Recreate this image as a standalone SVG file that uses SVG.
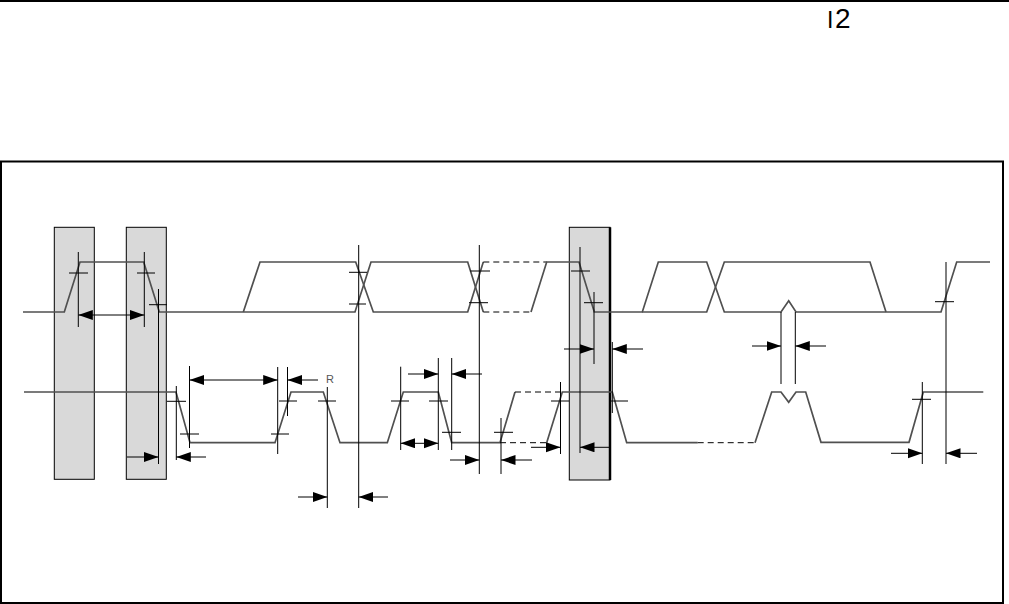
<svg xmlns="http://www.w3.org/2000/svg" width="1009" height="604" viewBox="0 0 1009 604">
<style>
.sig{fill:none;stroke:#505050;stroke-width:1.7;stroke-linejoin:miter}
.dash{fill:none;stroke:#000;stroke-width:1;stroke-dasharray:6 4}
.tk{fill:none;stroke:#000;stroke-width:1}
.dim{fill:none;stroke:#000;stroke-width:1;marker-end:url(#ah)}
.dbl{fill:none;stroke:#000;stroke-width:1;marker-end:url(#ah);marker-start:url(#ah)}
.box{fill:#d9d9d9;stroke:#000;stroke-width:1}
.hd{font-family:"Liberation Sans",Arial,sans-serif;fill:#000}
</style>
<defs>
<marker id="ah" markerUnits="userSpaceOnUse" markerWidth="16" markerHeight="11" refX="14.5" refY="5" orient="auto-start-reverse">
<path d="M0,0 L14.5,5 L0,10 z" fill="#000"/>
</marker>
</defs>
<rect width="1009" height="604" fill="#fff"/>
<g id="header">
<line x1="0" y1="1" x2="1009" y2="1" stroke="#000" stroke-width="2"/>
<text class="hd" x="827" y="28" font-size="23">I</text>
<text class="hd" x="835" y="28" font-size="28">2</text>
</g>
<g id="frame">
<rect x="1" y="161.5" width="1002" height="441.5" fill="none" stroke="#000" stroke-width="2"/>
</g>
<g id="boxes">
<rect class="box" x="54.3" y="227.3" width="40" height="252"/>
<rect class="box" x="126.3" y="227.3" width="40" height="252"/>
<rect class="box" x="569.3" y="227.3" width="40.7" height="252.7"/>
<line x1="610" y1="227.3" x2="610" y2="480" stroke="#000" stroke-width="2.5"/>
</g>
<g id="SDA">
<path class="sig" d="M23,312 L64.3,312 L80,262 L143.7,262 L159.3,312 L355,312 L371,262 L467.7,262 L483.3,312"/>
<path class="sig" d="M243.3,312 L260,262 L355.7,262 L373.3,312 L467.7,312 L483.3,262"/>
<path class="dash" d="M483.3,262 L546.7,262 M483.3,312 L531,312"/>
<path class="sig" d="M531,312 L546.7,262 L579,262 L594.3,312 L642.3,312 L658.3,262 L706.7,262 L724.3,312 L781,312 L788.7,300.7 L796,312 L941,312 L956.7,262 L990,262"/>
<path class="sig" d="M642.3,312 L706.7,312 L724.3,262 L870,262 L886,312"/>
</g>
<g id="SCL">
<path class="sig" d="M24,392 L176,392 L190,442.7 L275,442.7 L291,392 L323.3,392 L340,442.7 L387.3,442.7 L403.3,392 L438.3,392 L451.7,442.7 L500,442.7 L515,392"/>
<path class="dash" d="M515,392 L562.3,392 M500,442.7 L546.7,442.7"/>
<path class="sig" d="M546.7,442.7 L562.3,392 L612.3,392 L626.7,442.7 L697.7,442.7"/>
<path class="dash" d="M697.7,442.7 L755,442.7"/>
<path class="sig" d="M755,442.7 L771.7,392 L781,392 L788.7,402.3 L796,392 L805.7,392 L821,442.3 L909,442.3 L923.3,392 L983.3,392"/>
<text x="326" y="383" font-family="Liberation Sans, Arial, sans-serif" font-size="11" fill="#555">R</text>
</g>
<g id="ticks">
<path class="tk" d="M78.3,252 V327 M144.3,252 V327 M158.5,289 V464 M176.3,386 V460 M189.5,366 V448 M277.7,367 V454 M287.5,367 V416 M327.3,387 V508 M358.7,245 V508 M400.7,366.7 V450 M438.3,358 V450 M451.7,358 V450 M479.3,245 V474 M501,418 V474 M560.5,382 V454 M580,247 V453 M594,292 V364 M612.3,342 V413 M781,312 V384 M795.3,312 V384 M922.3,382 V464 M946,262 V464"/>
<path class="tk" d="M69,273 H88 M137,273 H155 M149,304.7 H167 M167,401.3 H186 M180,434 H199 M271,434 H289 M279,401 H297 M318,401 H336 M391,401 H409 M429,401 H448 M442,432.3 H461 M494,432.3 H513 M551,401 H569 M611,401 H628 M349,272.3 H367 M349,304 H366 M470,271 H490 M469,302.7 H488 M571,271 H590 M584,302.7 H603 M912,399.3 H931 M935,301.7 H954"/>
</g>
<g id="connectors">
<line class="dbl" x1="78.3" y1="315" x2="144.3" y2="315"/>
<line class="dim" x1="127" y1="457" x2="158.5" y2="457"/>
<line class="dim" x1="206" y1="457" x2="176.3" y2="457"/>
<line class="dbl" x1="189.5" y1="380" x2="277.7" y2="380"/>
<line class="dim" x1="318" y1="380" x2="287.5" y2="380"/>
<line class="dim" x1="298" y1="497" x2="327.3" y2="497"/>
<line class="dim" x1="388" y1="497" x2="358.7" y2="497"/>
<line class="dim" x1="408" y1="374" x2="438.3" y2="374"/>
<line class="dim" x1="482" y1="374" x2="451.7" y2="374"/>
<line class="dbl" x1="400.7" y1="443.3" x2="438.3" y2="443.3"/>
<line class="dim" x1="450" y1="460" x2="479.3" y2="460"/>
<line class="dim" x1="532" y1="460" x2="501" y2="460"/>
<line class="dim" x1="564" y1="349" x2="594" y2="349"/>
<line class="dim" x1="643" y1="349" x2="612.3" y2="349"/>
<line class="dim" x1="531" y1="447.3" x2="560.5" y2="447.3"/>
<line class="dim" x1="609" y1="447.3" x2="580" y2="447.3"/>
<line class="dim" x1="752" y1="346" x2="781" y2="346"/>
<line class="dim" x1="826" y1="346" x2="795.3" y2="346"/>
<line class="dim" x1="891" y1="453.3" x2="922.3" y2="453.3"/>
<line class="dim" x1="977" y1="453.3" x2="946" y2="453.3"/>
</g>
</svg>
